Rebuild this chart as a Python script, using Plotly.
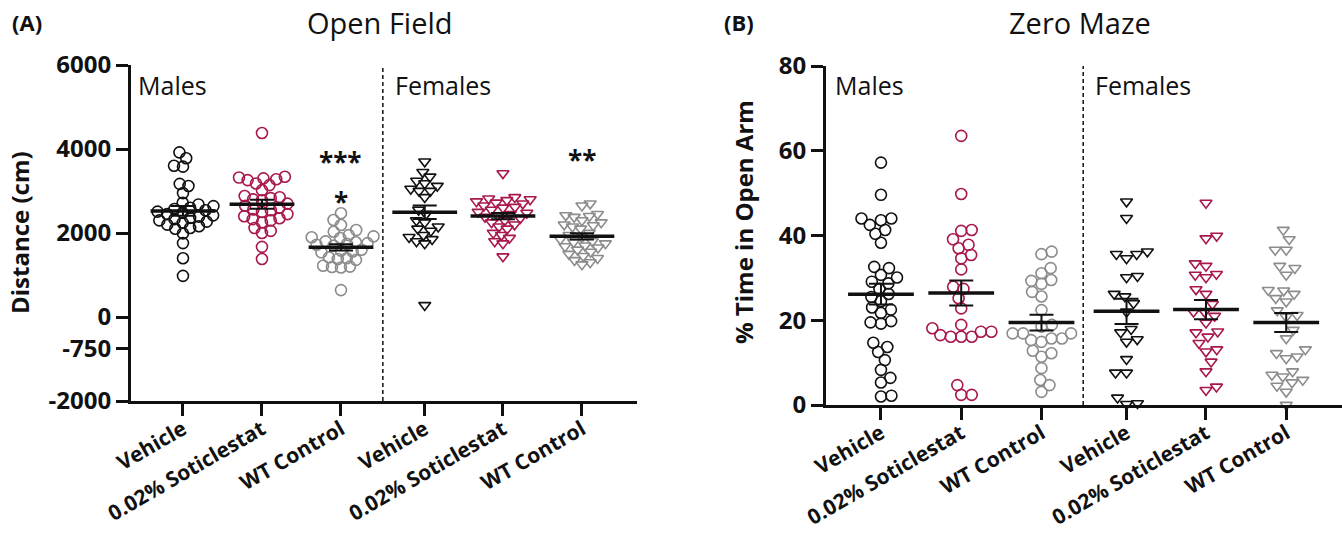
import numpy as np
import plotly.graph_objects as go

W, H = 1342, 538

# ---------------- data ----------------
categories = ["Vehicle", "0.02% Soticlestat", "WT Control",
              "Vehicle", "0.02% Soticlestat", "WT Control"]

# Open Field: distance (cm)
of_male_vehicle = [3920, 3780, 3600, 3580, 3170, 3120, 2950, 2720, 2680, 2640, 2600, 2570,
                   2540, 2510, 2480, 2450, 2420, 2390, 2360, 2330, 2300, 2270, 2240, 2200,
                   2160, 2120, 2100, 1990, 1760, 1400, 980]
of_male_sotic = [4380, 3340, 3320, 3300, 3280, 3260, 3180, 3140, 3020, 2880, 2850, 2830,
                 2800, 2780, 2700, 2650, 2600, 2560, 2540, 2500, 2450, 2400, 2350, 2330,
                 2300, 2250, 2120, 2050, 2000, 1670, 1380]
of_male_wt = [2470, 2310, 2190, 2070, 2030, 1950, 1920, 1900, 1880, 1800, 1780, 1760,
              1740, 1720, 1700, 1600, 1580, 1560, 1540, 1420, 1400, 1380, 1360, 1220,
              1200, 1190, 1180, 640]
of_female_vehicle = [3700, 3450, 3340, 3240, 3180, 3120, 3050, 3000, 3000, 2850, 2550, 2450,
                     2300, 2250, 2150, 2100, 2050, 1950, 1900, 1850, 1800, 1750, 280]
of_female_sotic = [3420, 2850, 2820, 2800, 2780, 2750, 2720, 2700, 2650, 2620, 2600, 2550,
                   2500, 2480, 2450, 2420, 2380, 2350, 2300, 2250, 2200, 2150, 2100, 2000,
                   1950, 1880, 1800, 1750, 1440]
of_female_wt = [2700, 2650, 2450, 2420, 2400, 2380, 2300, 2250, 2200, 2180, 2150, 2100,
                2000, 1950, 1900, 1850, 1800, 1780, 1750, 1700, 1680, 1650, 1600, 1550,
                1500, 1450, 1400, 1350, 1300, 1250]

# Zero Maze: % time in open arm
zm_male_vehicle = [57.2, 49.6, 44.0, 44.0, 43.6, 42.5, 41.3, 40.4, 38.3, 32.6, 32.3, 30.7,
                   30.1, 29.1, 28.7, 27.4, 26.2, 25.5, 24.5, 23.0, 22.5, 21.7, 19.8, 19.5,
                   19.2, 14.7, 13.7, 12.5, 10.6, 8.3, 6.4, 5.3, 2.2, 2.0]
zm_male_sotic = [63.5, 49.8, 41.3, 41.1, 39.1, 37.8, 37.0, 35.4, 34.6, 32.0, 27.9, 27.4,
                 25.2, 22.8, 18.9, 18.1, 17.3, 17.3, 16.1, 16.1, 16.1, 16.5, 4.7, 2.4, 2.4]
zm_male_wt = [36.2, 35.6, 32.3, 31.1, 29.5, 29.3, 28.6, 26.7, 25.6, 22.4, 18.9, 18.5,
              16.9, 16.9, 16.9, 15.7, 15.7, 15.3, 14.9, 12.8, 12.2, 11.4, 8.7, 5.9, 4.7, 3.1]
zm_female_vehicle = [48.0, 44.1, 36.2, 35.6, 35.6, 34.6, 30.4, 30.1, 26.2, 25.6, 24.0, 22.0,
                     17.9, 17.1, 15.5, 14.9, 10.8, 7.6, 7.6, 1.7, 0.4, 0.2]
zm_female_sotic = [47.7, 39.9, 39.3, 33.4, 32.8, 30.9, 30.7, 30.1, 27.3, 26.2, 23.8, 22.0,
                   22.0, 21.0, 19.4, 17.3, 17.1, 16.1, 14.6, 13.1, 12.6, 10.2, 7.9, 4.3, 3.5]
zm_female_wt = [41.3, 39.1, 36.6, 36.6, 32.8, 32.3, 30.7, 27.1, 27.0, 26.2, 25.2, 24.4,
                22.3, 21.2, 20.8, 17.7, 15.7, 13.1, 12.2, 11.4, 11.0, 7.9, 7.1, 6.7, 5.9,
                5.3, 4.5, 3.1, 0.0]

of_ticks = [-2000, -750, 0, 2000, 4000, 6000]
zm_ticks = [0, 20, 40, 60, 80]
sig_labels = ["***", "*", "**"]
sig_groups = [2, 2, 5]
sig_values = [3700, 2740, 3740]

# ---------------- styling / layout constants ----------------
BLACK = "#111111"
RED = "#A8174E"
GREY = "#8C8C8C"
colors = [BLACK, RED, GREY, BLACK, RED, GREY]
symbols = ["circle-open"] * 3 + ["triangle-down-open"] * 3
group_pos = [0, 1, 2, 3.06, 4.05, 5.05]
FONT = "Open Sans"


def px_frac_x(px):
    return px / W


def px_frac_y(py):
    return 1 - py / H


def beeswarm(ypx, d):
    offs = [0.0] * len(ypx)
    placed = []
    order = sorted(range(len(ypx)), key=lambda i: ypx[i])
    for i in order:
        y = ypx[i]
        cands = [0.0]
        for (px, py) in placed:
            dy = abs(py - y)
            if dy < d:
                dx = (d * d - dy * dy) ** 0.5
                cands += [px + dx, px - dx]
        cands.sort(key=lambda c: (abs(c), -c if len(placed) % 2 else c))
        for c in cands:
            if all((c - px) ** 2 + (y - py) ** 2 >= d * d - 1e-6 for px, py in placed):
                offs[i] = c
                break
        placed.append((offs[i], y))
    return offs


panels = [
    dict(xa="x", ya="y",
         groups=[of_male_vehicle, of_male_sotic, of_male_wt,
                 of_female_vehicle, of_female_sotic, of_female_wt],
         ypx=336 / 8000, xpx=79.0, d_circ=9.0, d_tri=8.5),
    dict(xa="x2", ya="y2",
         groups=[zm_male_vehicle, zm_male_sotic, zm_male_wt,
                 zm_female_vehicle, zm_female_sotic, zm_female_wt],
         ypx=339 / 80, xpx=80.3, d_circ=10.5, d_tri=11.0),
]

fig = go.Figure()

for p in panels:
    for gi, vals in enumerate(p["groups"]):
        vals = np.array(vals, dtype=float)
        is_tri = "triangle" in symbols[gi]
        d = p["d_tri"] if is_tri else p["d_circ"]
        offs = beeswarm(list(vals * p["ypx"]), d)
        xs = [group_pos[gi] + o / p["xpx"] for o in offs]
        fig.add_trace(go.Scatter(
            x=xs, y=vals, mode="markers", xaxis=p["xa"], yaxis=p["ya"],
            cliponaxis=False, showlegend=False, hoverinfo="y",
            marker=dict(symbol=symbols[gi], size=10.5 if is_tri else 11,
                        color=colors[gi], line=dict(width=1.6, color=colors[gi]))))
    for gi, vals in enumerate(p["groups"]):
        vals = np.array(vals, dtype=float)
        m = vals.mean()
        sem = vals.std(ddof=1) / np.sqrt(len(vals))
        gp = group_pos[gi]
        fig.add_trace(go.Scatter(
            x=[gp], y=[m], mode="markers", xaxis=p["xa"], yaxis=p["ya"],
            showlegend=False, hoverinfo="skip", cliponaxis=False,
            marker=dict(size=1, color="rgba(0,0,0,0)"),
            error_y=dict(type="data", array=[sem], color=BLACK, thickness=2, width=12)))
        fig.add_trace(go.Scatter(
            x=[gp - 0.41, gp + 0.41], y=[m, m], mode="lines",
            xaxis=p["xa"], yaxis=p["ya"], showlegend=False, hoverinfo="skip",
            cliponaxis=False, line=dict(color=BLACK, width=3.5)))

axis_common = dict(showline=True, linewidth=3, linecolor=BLACK, ticks="outside",
                   ticklen=12, tickwidth=3, tickcolor=BLACK, showgrid=False,
                   zeroline=False, automargin=False, fixedrange=True)
xfont = dict(family=FONT, size=21, color=BLACK, weight="bold")
yfont = dict(family=FONT, size=24, color=BLACK, weight="bold")

fig.update_layout(
    width=W, height=H, paper_bgcolor="white", plot_bgcolor="white",
    margin=dict(l=0, r=0, t=0, b=0), showlegend=False, hovermode=False,
    xaxis=dict(domain=[px_frac_x(131), px_frac_x(637)], range=[-0.658, 5.747],
               tickvals=group_pos, ticktext=categories, tickangle=-30,
               ticklabelstandoff=-7, tickfont=xfont, anchor="y", **axis_common),
    yaxis=dict(domain=[px_frac_y(401), px_frac_y(65)], range=[-2000, 6000],
               tickvals=of_ticks, ticktext=[str(t) for t in of_ticks],
               tickfont=yfont, anchor="x", **axis_common),
    xaxis2=dict(domain=[px_frac_x(826), 1.0], range=[-0.685, 5.745],
                tickvals=group_pos, ticktext=categories, tickangle=-30,
                ticklabelstandoff=-7, tickfont=xfont, anchor="y2", **axis_common),
    yaxis2=dict(domain=[px_frac_y(405), px_frac_y(66)], range=[0, 80],
                tickvals=zm_ticks, ticktext=[str(t) for t in zm_ticks],
                tickfont=yfont, anchor="x2", **axis_common),
)

# dashed separators between males and females
for xa, ya, xv in [("x", "y", 2.53), ("x2", "y2", 2.52)]:
    fig.add_shape(type="line", xref=xa, yref=ya + " domain", x0=xv, x1=xv, y0=0, y1=1,
                  line=dict(color=BLACK, width=1.5, dash="4px,3px"))

ann = []
# panel titles
ann.append(dict(text="Open Field", x=px_frac_x(380), y=px_frac_y(23), xref="paper", yref="paper",
                showarrow=False, xanchor="center", yanchor="middle",
                font=dict(family=FONT, size=29, color=BLACK)))
ann.append(dict(text="Zero Maze", x=px_frac_x(1080), y=px_frac_y(23), xref="paper", yref="paper",
                showarrow=False, xanchor="center", yanchor="middle",
                font=dict(family=FONT, size=29, color=BLACK)))
ann.append(dict(text="(A)", x=px_frac_x(10), y=px_frac_y(22), xref="paper", yref="paper",
                showarrow=False, xanchor="left", yanchor="middle",
                font=dict(family=FONT, size=22, color=BLACK, weight="bold")))
ann.append(dict(text="(B)", x=px_frac_x(722), y=px_frac_y(22), xref="paper", yref="paper",
                showarrow=False, xanchor="left", yanchor="middle",
                font=dict(family=FONT, size=22, color=BLACK, weight="bold")))
# y axis titles
ann.append(dict(text="Distance (cm)", x=px_frac_x(19), y=px_frac_y(233), xref="paper", yref="paper",
                showarrow=False, xanchor="center", yanchor="middle", textangle=-90,
                font=dict(family=FONT, size=24, color=BLACK, weight="bold")))
ann.append(dict(text="% Time in Open Arm", x=px_frac_x(743), y=px_frac_y(222), xref="paper",
                yref="paper", showarrow=False, xanchor="center", yanchor="middle", textangle=-90,
                font=dict(family=FONT, size=24, color=BLACK, weight="bold")))
# Males / Females labels
for txt, px in [("Males", 136), ("Females", 393), ("Males", 833), ("Females", 1093)]:
    ann.append(dict(text=txt, x=px_frac_x(px), y=px_frac_y(85), xref="paper", yref="paper",
                    showarrow=False, xanchor="left", yanchor="middle",
                    font=dict(family=FONT, size=25, color=BLACK)))
# significance stars
for lab, g, v in zip(sig_labels, sig_groups, sig_values):
    ann.append(dict(text=lab, x=group_pos[g], y=v, xref="x", yref="y", showarrow=False,
                    xanchor="center", yanchor="middle",
                    font=dict(family=FONT, size=26, color=BLACK, weight="bold")))
fig.update_layout(annotations=ann)

fig.write_html("out.html", config={"displayModeBar": False, "staticPlot": True},
               post_script="document.body.style.margin='0px';")
